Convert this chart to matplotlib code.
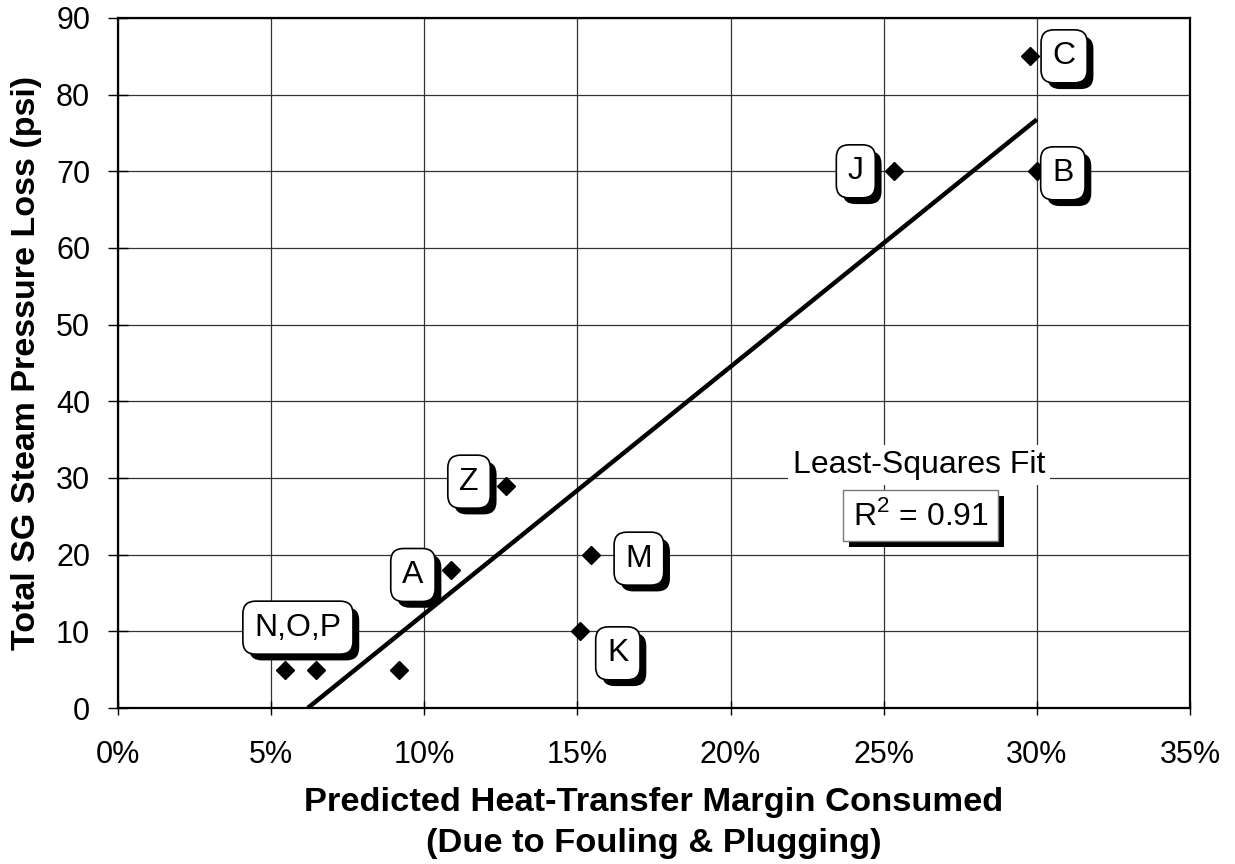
import numpy as np
import matplotlib.pyplot as plt
from matplotlib import patheffects
from matplotlib.ticker import FuncFormatter

plt.rcParams['font.family'] = ['Liberation Sans', 'DejaVu Sans']
plt.rcParams['mathtext.fontset'] = 'custom'
plt.rcParams['mathtext.rm'] = 'Liberation Sans'

# Plant data: heat-transfer margin consumed (%) vs. steam pressure loss (psi)
margin = [5.45, 6.46, 9.17, 10.87, 12.67, 15.08, 15.44, 25.33, 29.78, 30.0]
pressure = [5, 5, 5, 18, 29, 10, 20, 70, 85, 70]

# label text, index of the point it belongs to, offset in pixels (dx, dy)
labels = ['N,O,P', 'A', 'Z', 'K', 'M', 'J', 'C', 'B']
label_idx = [0, 3, 4, 5, 6, 7, 8, 9]
label_off = [(13, 42), (-38, -5), (-37, 4), (38, -22), (48, -4), (-38, 0), (34, 0), (26, -2)]

x = np.array(margin)
y = np.array(pressure)
slope, icpt = np.polyfit(x, y, 1)
r2 = np.corrcoef(x, y)[0, 1] ** 2
x0 = -icpt / slope
xfit = np.array([x0, x.max()])
yfit = slope * xfit + icpt

fig = plt.figure(figsize=(12.35, 8.64), dpi=100)
ax = fig.add_axes([118 / 1235, 1 - 708 / 864, (1190 - 118) / 1235, (708 - 18) / 864])

ax.plot(xfit, yfit, color='black', lw=3.2, solid_capstyle='butt', zorder=3)
ax.plot(x, y, linestyle='none', marker='D', color='black', markersize=9, zorder=4)

px = 72 / 100
shadow = [patheffects.withSimplePatchShadow(offset=(4.5, -4.5), shadow_rgbFace='black', alpha=1)]
for t, i, (dx, dy) in zip(labels, label_idx, label_off):
    a = ax.annotate(t, (x[i], y[i]), xytext=(dx * px, dy * px), textcoords='offset points',
                    ha='center', va='center', fontsize=23, zorder=5,
                    bbox=dict(boxstyle='round,pad=0.36,rounding_size=0.4', fc='white',
                              ec='black', lw=1.2))
    a.get_bbox_patch().set_path_effects(shadow)

ax.text(26.15, 31.7, 'Least-Squares Fit', ha='center', va='center', fontsize=23, zorder=5,
        bbox=dict(boxstyle='square,pad=0.15', fc='white', ec='none'))
rt = ax.text(26.2, 25.1, 'R$^2$ = %.2f' % r2, ha='center', va='center', fontsize=23, zorder=5,
             bbox=dict(boxstyle='square,pad=0.3', fc='white', ec='#777777', lw=1))
rt.get_bbox_patch().set_path_effects(shadow)

ax.set_xlim(0, 35)
ax.set_ylim(0, 90)
ax.set_xticks(np.arange(0, 36, 5))
ax.set_yticks(np.arange(0, 91, 10))
ax.xaxis.set_major_formatter(FuncFormatter(lambda v, p: '%d%%' % v))
ax.grid(True, color='#333333', lw=0.9)
ax.set_axisbelow(True)
ax.tick_params(labelsize=22, width=1, direction='inout')
ax.tick_params(axis='x', length=10, pad=18)
ax.tick_params(axis='y', length=14, pad=13)
for s in ax.spines.values():
    s.set_linewidth(1.6)

ax.set_xlabel('Predicted Heat-Transfer Margin Consumed\n(Due to Fouling & Plugging)',
              fontsize=24.8, fontweight='bold', labelpad=12, linespacing=1.45)
ax.set_ylabel('Total SG Steam Pressure Loss (psi)', fontsize=24.5, fontweight='bold', labelpad=10)

fig.savefig('out.png', dpi=100)
